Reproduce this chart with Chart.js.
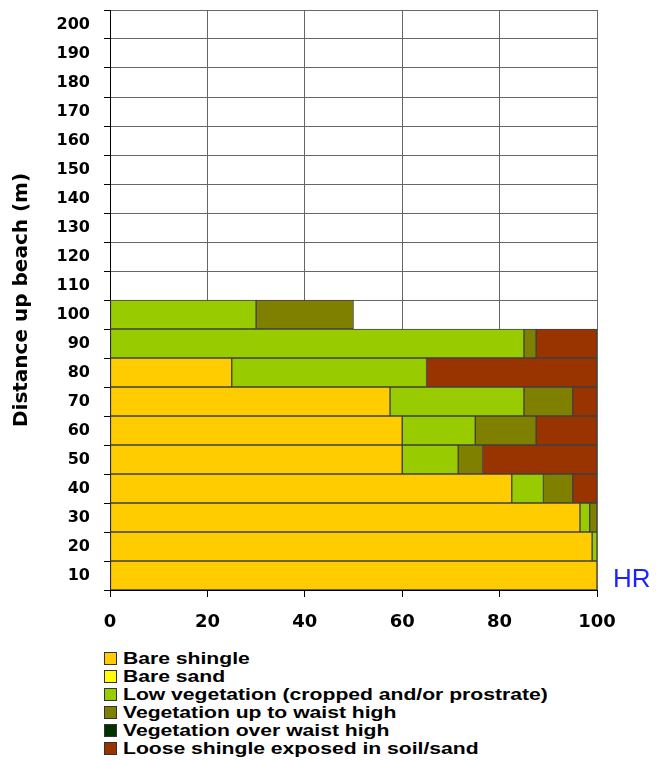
<!DOCTYPE html>
<html>
<head>
<meta charset="utf-8">
<script src="https://cdn.jsdelivr.net/npm/chart.js@4"></script>
<style>
    body { margin: 0; background: #fff; font-family: "Liberation Sans", Arial, sans-serif; }
    #wrap { position: relative; width: 657px; height: 760px; }
    #chartBox { position: absolute; left: 0; top: 0; width: 657px; height: 645px; }
    #legend { position: absolute; left: 104px; top: 650px; margin: 0; padding: 0; list-style: none; }
    #legend li { height: 18px; line-height: 18px; font-weight: bold; font-size: 16px; color: #000; white-space: nowrap; }
    #legend .box { display: inline-block; width: 11px; height: 11px; border: 1px solid #333; margin-right: 6px; vertical-align: -1px; }
    #legend .txt { display: inline-block; transform: scaleX(1.32); transform-origin: left center; }
</style>
</head>
<body>
<div id="wrap">
    <div id="chartBox"><canvas id="beachChart"></canvas></div>
    <ul id="legend"></ul>
</div>
<script>
// Distance bands up the beach (m), bottom to top
const distances = ["10", "20", "30", "40", "50", "60", "70", "80", "90", "100",
                   "110", "120", "130", "140", "150", "160", "170", "180", "190", "200"];
const xTicks = [0, 20, 40, 60, 80, 100];

// Percentage cover per band, same order as distances (surveyed bands only)
const bareShingle   = [100, 99, 96.5, 82.5, 60, 60, 57.5, 25, 0, 0];
const bareSand      = [0, 0, 0, 0, 0, 0, 0, 0, 0, 0];
const lowVegetation = [0, 1, 2, 6.5, 11.5, 15, 27.5, 40, 85, 30];
const vegWaist      = [0, 0, 1.5, 6, 5, 12.5, 10, 0, 2.5, 20];
const vegOverWaist  = [0, 0, 0, 0, 0, 0, 0, 0, 0, 0];
const looseShingle  = [0, 0, 0, 5, 23.5, 12.5, 5, 35, 12.5, 0];

const seriesNames = [
    "Bare shingle",
    "Bare sand",
    "Low vegetation (cropped and/or prostrate)",
    "Vegetation up to waist high",
    "Vegetation over waist high",
    "Loose shingle exposed in soil/sand"
];
const seriesColors = ["#ffcc00", "#ffff00", "#99cc00", "#808000", "#003300", "#993300"];
const seriesValues = [bareShingle, bareSand, lowVegetation, vegWaist, vegOverWaist, looseShingle];

// pad to all bands, empty segments left out so no border is drawn
function toBandData(values) {
    return distances.map((d, i) => (values[i] ? values[i] : null));
}

const datasets = seriesNames.map((name, i) => ({
    label: name,
    data: toBandData(seriesValues[i]),
    backgroundColor: seriesColors[i],
    borderColor: "#404040",
    borderWidth: 1,
    borderSkipped: false,
    barPercentage: 1,
    categoryPercentage: 1
}));

const axisFont = "'DejaVu Sans', 'Liberation Sans', sans-serif";

// "HR" marker beside the lowest band
const hrMarker = {
    id: "hrMarker",
    afterDraw(chart) {
        const ctx = chart.ctx;
        const y = chart.scales.y.getPixelForValue(0);
        ctx.save();
        ctx.fillStyle = "#1f1fff";
        ctx.font = "26px 'Liberation Sans', Arial, sans-serif";
        ctx.textAlign = "left";
        ctx.textBaseline = "middle";
        ctx.fillText("HR", chart.chartArea.right + 16, y + 4);
        ctx.restore();
    }
};

const chart = new Chart(document.getElementById("beachChart"), {
    type: "bar",
    data: { labels: distances, datasets: datasets },
    options: {
        indexAxis: "y",
        responsive: true,
        maintainAspectRatio: false,
        animation: false,
        layout: { padding: { left: 0, right: 60, top: 10, bottom: 0 } },
        plugins: {
            legend: { display: false },
            tooltip: { enabled: false }
        },
        scales: {
            x: {
                type: "linear",
                stacked: true,
                min: 0,
                max: 100,
                afterBuildTicks: (scale) => { scale.ticks = xTicks.map(v => ({ value: v })); },
                ticks: {
                    color: "#000",
                    padding: 15,
                    font: { family: axisFont, size: 18, weight: "bold" }
                },
                grid: { color: "#666", lineWidth: 1, tickLength: 7, tickColor: "#000" },
                border: { color: "#000", width: 1 },
                afterFit: (scale) => { scale.height = 55; }
            },
            y: {
                stacked: true,
                reverse: true,
                ticks: {
                    color: "#000",
                    padding: 14,
                    autoSkip: false,
                    font: { family: axisFont, size: 16, weight: "bold" }
                },
                grid: { color: "#666", lineWidth: 1, tickLength: 6, tickColor: "#000" },
                border: { color: "#000", width: 1 },
                title: {
                    display: true,
                    text: "Distance up beach (m)",
                    color: "#000",
                    padding: { top: 10, bottom: 0 },
                    font: { family: axisFont, size: 20, weight: "bold" }
                },
                afterFit: (scale) => {
                    // labels sit inside their bands, no extra room above/below needed
                    scale.width = 110;
                    scale.paddingTop = 0;
                    scale.paddingBottom = 0;
                }
            }
        }
    },
    plugins: [hrMarker]
});

// Legend listed one entry per line under the chart
const legendList = document.getElementById("legend");
seriesNames.forEach((name, i) => {
    const li = document.createElement("li");
    li.innerHTML = `<span class="box" style="background:${seriesColors[i]}"></span><span class="txt">${name}</span>`;
    legendList.appendChild(li);
});
</script>
</body>
</html>
